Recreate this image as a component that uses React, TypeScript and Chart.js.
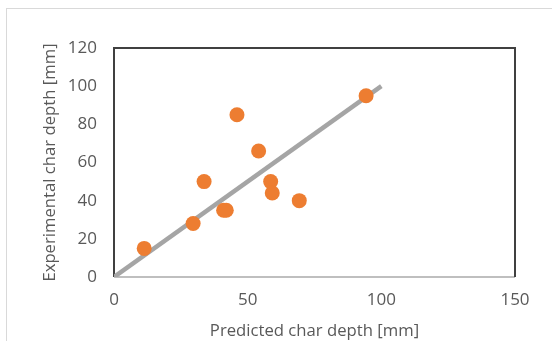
import React, { useEffect, useRef } from "react";
import { Chart, registerables } from "chart.js";

Chart.register(...registerables);

const predicted = [11.3, 29.6, 33.7, 41.0, 42.0, 46.0, 54.1, 58.6, 59.2, 69.3, 94.3];
const experimental = [15.0, 28.0, 50.0, 35.0, 35.0, 85.0, 66.0, 50.0, 44.0, 40.0, 95.0];
const lineX = [0, 100];
const lineY = [0, 100];
const xTicks = [0, 50, 100, 150];
const yTicks = [0, 20, 40, 60, 80, 100, 120];
const xTitle = "Predicted char depth [mm]";
const yTitle = "Experimental char depth [mm]";

const FONT = "'Open Sans', sans-serif";
const TEXT = "#595959";

const borderPlugin = {
  id: "plotBorder",
  beforeDatasetsDraw(chart: any) {
    const { ctx, chartArea: a } = chart;
    ctx.save();
    ctx.lineWidth = 2;
    ctx.strokeStyle = "#BFBFBF";
    ctx.beginPath();
    ctx.moveTo(a.left, a.bottom);
    ctx.lineTo(a.right, a.bottom);
    ctx.stroke();
    ctx.strokeStyle = "#404040";
    ctx.beginPath();
    ctx.moveTo(a.left, a.bottom);
    ctx.lineTo(a.left, a.top);
    ctx.lineTo(a.right, a.top);
    ctx.lineTo(a.right, a.bottom);
    ctx.stroke();
    ctx.restore();
  },
};

export default function App() {
  const ref = useRef<HTMLCanvasElement>(null);
  useEffect(() => {
    const chart = new Chart(ref.current!, {
      type: "scatter",
      data: {
        datasets: [
          {
            label: "Data",
            data: predicted.map((x, i) => ({ x, y: experimental[i] })),
            backgroundColor: "#ED7D31",
            borderWidth: 0,
            pointRadius: 7.5,
            order: 0,
          },
          {
            type: "line",
            label: "Line",
            data: lineX.map((x, i) => ({ x, y: lineY[i] })),
            borderColor: "#A5A5A5",
            borderWidth: 4.5,
            pointRadius: 0,
            fill: false,
            order: 1,
          } as any,
        ],
      },
      options: {
        animation: false,
        responsive: false,
        events: [],
        layout: { padding: { left: 0, right: 37, top: 48, bottom: 0 } },
        plugins: { legend: { display: false }, tooltip: { enabled: false } },
        scales: {
          x: {
            type: "linear",
            min: 0,
            max: 150,
            afterBuildTicks: (s: any) => {
              s.ticks = xTicks.map((v) => ({ value: v }));
            },
            afterFit: (s: any) => {
              s.height = 64;
            },
            grid: { display: false, drawTicks: false },
            border: { display: false },
            ticks: { color: TEXT, font: { family: FONT, size: 17 }, padding: 13, maxRotation: 0 },
            title: {
              display: true,
              text: xTitle,
              color: TEXT,
              font: { family: FONT, size: 16.7 },
              padding: { top: 0, bottom: 0 },
            },
          },
          y: {
            type: "linear",
            min: 0,
            max: 120,
            afterBuildTicks: (s: any) => {
              s.ticks = yTicks.map((v) => ({ value: v }));
            },
            afterFit: (s: any) => {
              s.width = 114;
            },
            grid: { display: false, drawTicks: false },
            border: { display: false },
            ticks: { color: TEXT, font: { family: FONT, size: 17 }, padding: 17 },
            title: {
              display: true,
              text: yTitle,
              color: TEXT,
              font: { family: FONT, size: 16.7 },
              padding: { top: 40, bottom: 0 },
            },
          },
        },
      },
      plugins: [borderPlugin],
    });
    return () => chart.destroy();
  }, []);

  return (
    <div style={{ position: "fixed", left: 0, top: 0, width: 552, height: 341, background: "#fff", overflow: "hidden" }}>
      <div
        style={{
          position: "absolute",
          left: 6,
          top: 8,
          width: 600,
          height: 400,
          borderLeft: "1.5px solid #D9D9D9",
          borderTop: "1.5px solid #D9D9D9",
        }}
      />
      <canvas ref={ref} width={552} height={341} style={{ position: "absolute", left: 0, top: 0 }} />
    </div>
  );
}
